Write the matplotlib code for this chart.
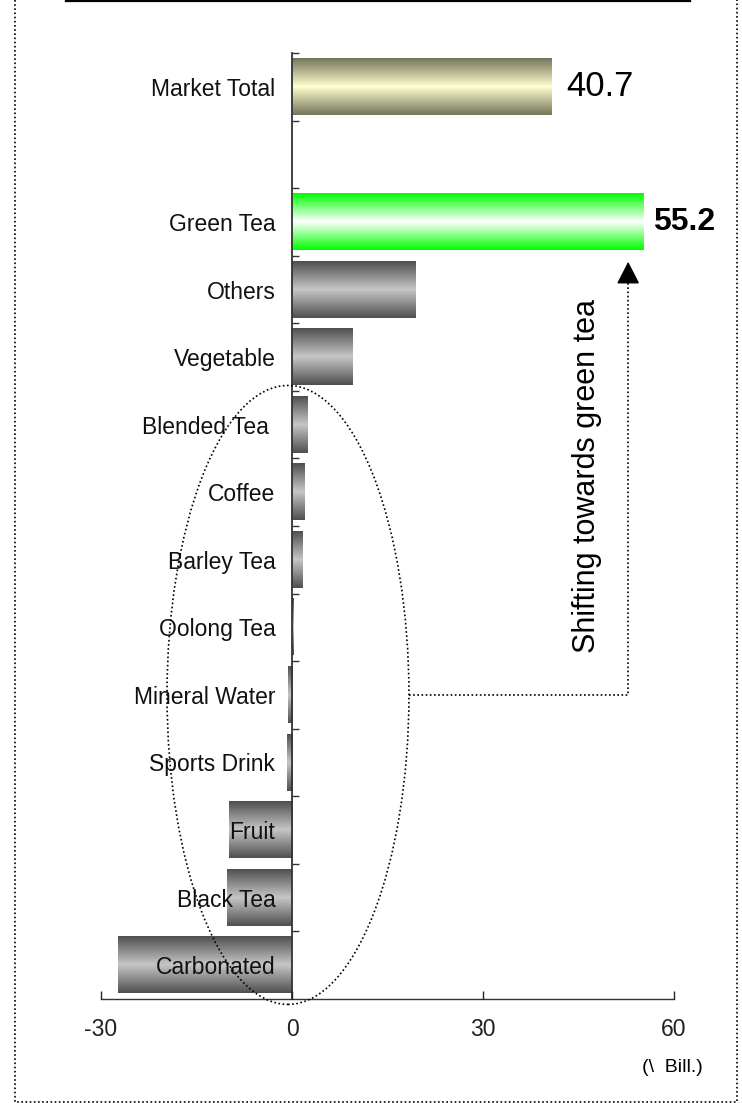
import matplotlib

matplotlib.use("Agg")
import matplotlib.pyplot as plt  # noqa: E402
import numpy as np
from matplotlib.lines import Line2D
from matplotlib.patches import Ellipse

plt.rcParams["font.family"] = ["Liberation Sans", "DejaVu Sans"]

# change vs. previous year, \ Bill. (top to bottom)
categories = ["Market Total", "Green Tea", "Others", "Vegetable", "Blended Tea ",
              "Coffee", "Barley Tea", "Oolong Tea", "Mineral Water",
              "Sports Drink", "Fruit", "Black Tea", "Carbonated"]
values = [40.7, 55.2, 19.4, 9.5, 2.5, 1.9, 1.7, 0.2, -0.7, -0.8, -9.9, -10.2,
          -27.3]
kinds = ["total", "highlight"] + ["other"] * 11
xticks = [-30, 0, 30, 60]

# one empty slot between the total and the segments
positions = [13] + list(range(11, -1, -1))

GRADIENTS = {
    "total": ("#75755c", "#ffffcf"),
    "highlight": ("#00ff00", "#ffffff"),
    "other": ("#505050", "#c6c6c6"),
}


def hex_rgb(c):
    return np.array(matplotlib.colors.to_rgb(c))


def gradient_fill(ax, patch, kind):
    edge, mid = (hex_rgb(c) for c in GRADIENTS[kind])
    t = np.linspace(0, 1, 80)
    s = 1 - np.abs(2 * t - 1)
    cols = edge[None, :] * (1 - s[:, None]) + mid[None, :] * s[:, None]
    x0, y0 = patch.get_x(), patch.get_y()
    w, h = patch.get_width(), patch.get_height()
    ax.imshow(cols[:, None, :], extent=(x0, x0 + w, y0, y0 + h),
              aspect="auto", interpolation="bilinear", zorder=2)


W, H = 742, 1103
fig = plt.figure(figsize=(W / 100, H / 100), dpi=100)
ax = fig.add_axes([101 / W, 1 - 999 / H, 573 / W, 946 / H])
ax.set_axisbelow(False)

bars = ax.barh(positions, values, height=0.83, color="none", zorder=2)
for b, k in zip(bars, kinds):
    gradient_fill(ax, b, k)

ax.set_xlim(-30, 60)
ax.set_ylim(-0.5, 13.5)

for s in ("top", "right"):
    ax.spines[s].set_visible(False)
ax.spines["left"].set_position(("data", 0))
ax.spines["left"].set_color("#333333")
ax.spines["left"].set_linewidth(1.3)
ax.spines["bottom"].set_color("#333333")
ax.spines["bottom"].set_linewidth(1.0)

ax.set_xticks(xticks)
ax.set_xticklabels([str(v) for v in xticks])
ax.tick_params(axis="x", direction="in", length=6, width=1, pad=14,
               labelsize=16.5, colors="#222222")

ax.set_yticks(np.arange(0.5, 14.0, 1.0))
ax.set_yticklabels([])
ax.tick_params(axis="y", which="major", direction="in", length=5, width=1,
               colors="#333333")
ax.set_yticks(positions, labels=categories, minor=True)
ax.tick_params(axis="y", which="minor", length=0, pad=12, labelsize=16.5,
               labelcolor="#111111")

# value labels for total and green tea
ax.annotate(f"{values[0]}", (values[0], positions[0]), xytext=(11, 0),
            textcoords="offset points", va="center", ha="left", fontsize=25)
ax.annotate(f"{values[1]}", (values[1], positions[1]), xytext=(7, 0),
            textcoords="offset points", va="center", ha="left", fontsize=23,
            fontweight="bold")

# dotted ellipse around the small / shrinking segments
ell = Ellipse((-0.63, 4.0), 38.0, 9.16, fill=False, linestyle=(0, (1, 1.5)),
              linewidth=1.2, edgecolor="black", zorder=5, clip_on=False)
ax.add_patch(ell)

arrow_x, arrow_y, tip_y = 52.8, 4.0, 10.41
ax.plot([-0.63 + 19.0, arrow_x, arrow_x], [arrow_y, arrow_y, tip_y - 0.2],
        color="black", linestyle=(0, (1, 1.5)), linewidth=1.2, zorder=5,
        clip_on=False)
ax.annotate("", xy=(arrow_x, tip_y), xytext=(arrow_x, tip_y - 0.3),
            arrowprops=dict(arrowstyle="-|>,head_length=0.7,head_width=0.36",
                            color="black", lw=1, shrinkA=0, shrinkB=0,
                            mutation_scale=20))
ax.text(46.3, 7.24, "Shifting towards green tea", rotation=90, ha="center",
        va="center", fontsize=22)

fig.text(672 / W, 1 - 1068 / H, "(\\  Bill.)", ha="center", va="center",
         fontsize=14)

# frame: solid top rule and dotted border
fig.add_artist(Line2D([66 / W, 690 / W], [1 - 1 / H, 1 - 1 / H],
                      color="black", linewidth=1.6))
fig.add_artist(Line2D([14.5 / W, 14.5 / W, 737 / W, 737 / W],
                      [1.0, 1 - 1101.5 / H, 1 - 1101.5 / H, 1.0],
                      color="black", linestyle=(0, (1, 1.5)), linewidth=1.2))

fig.savefig("out.png", dpi=100)
